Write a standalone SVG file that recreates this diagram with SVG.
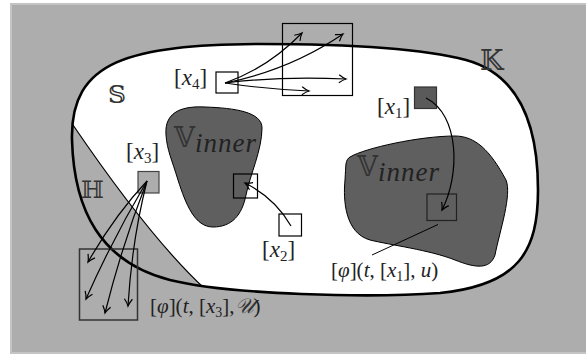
<svg xmlns="http://www.w3.org/2000/svg" width="586" height="356" viewBox="0 0 586 356">
<style>
.k{fill:none;stroke:#000;stroke-width:2.6}
.v{fill:#5f5f5f;stroke:#000;stroke-width:1}
.bx{stroke:#000;stroke-width:1.2}
.ar{fill:none;stroke:#000;stroke-width:1.2;marker-end:url(#ah)}
.t{fill:#222}
.bb{font-family:'DejaVu Serif','DejaVu Sans',serif;fill:#333}
</style>
<defs>
<path id="kp" d="M72,140 C70,60 130,45 260,44 C340,44 420,48 466,60 C510,72 538,110 538,190 C538,250 520,285 440,293 C370,298 230,295 170,280 C100,262 74,210 72,140 Z"/>
<clipPath id="kc"><use href="#kp"/></clipPath>
<marker id="ah" markerUnits="userSpaceOnUse" markerWidth="14" markerHeight="14" viewBox="-10 -7 14 14" refX="0" refY="0" orient="auto">
<path d="M-7,-4 Q-3,-1 0,0 Q-3,1 -7,4" fill="none" stroke="#000" stroke-width="1.2"/>
</marker>
</defs>
<rect x="11" y="4" width="580" height="349" fill="#adadad" stroke="#c4c4c4" stroke-width="2"/>
<g id="K">
<use href="#kp" fill="#fff"/>
<g clip-path="url(#kc)">
<path d="M73,125 Q150,238 205,289 L40,330 L40,100 Z" fill="#adadad"/>
<path d="M73,125 Q150,238 205,289" fill="none" stroke="#000" stroke-width="1.2"/>
</g>
</g>
<g id="V1"><path class="v" d="M166,135 C164,110 185,106 205,107 C235,108 262,112 262,128 C262,150 250,175 246,195 C242,215 232,227 213,227 C195,227 186,205 178,180 C172,160 167,150 166,135 Z"/></g>
<g id="V2"><path class="v" d="M350,157 C365,148 420,136 455,136 C475,136 490,150 506,180 C512,195 500,230 495,255 C490,270 475,268 455,260 C430,250 390,245 370,240 C345,233 343,200 345,180 C346,165 345,160 350,157 Z"/></g>
<use href="#kp" class="k"/>
<g id="x4"><rect class="bx" x="216" y="72" width="22" height="21" fill="#fff"/></g>
<g id="x4target"><rect class="bx" x="282.5" y="23.5" width="70" height="72" fill="none"/></g>
<g id="x1"><rect x="414.5" y="87" width="22" height="21.5" fill="#5a5a5a" stroke="#333" stroke-width="1.2"/></g>
<g id="x1target"><rect x="427" y="194" width="29.5" height="26.5" fill="none" stroke="#222" stroke-width="1.2"/></g>
<g id="x2"><rect class="bx" x="279" y="214" width="22.5" height="22" fill="#fff"/></g>
<g id="x2target"><rect class="bx" x="233.5" y="174" width="24" height="24" fill="none"/></g>
<g id="x3"><rect x="138" y="171.5" width="21" height="21.5" fill="#adadad" stroke="#444" stroke-width="1.2"/></g>
<g id="x3target"><rect x="79.5" y="249" width="58" height="71" fill="none" stroke="#333" stroke-width="1.5"/></g>
<g id="connectors">
<path class="ar" d="M225,83 Q268,68 302,33"/>
<path class="ar" d="M225,83 Q290,70 343,34"/>
<path class="ar" d="M225,83 Q280,76 346,79"/>
<path class="ar" d="M225,83 Q265,89 309,91"/>
<path class="ar" d="M426,98 C460,115 460,175 442,210"/>
<path class="ar" d="M291,226 Q275,198 245,183"/>
<path class="ar" d="M147,181 Q115,215 88,262"/>
<path class="ar" d="M147,181 Q112,240 86,299"/>
<path class="ar" d="M147,181 Q122,245 105,313"/>
<path class="ar" d="M147,181 Q132,240 128,306"/>
<path d="M438,224.5 L372,255" fill="none" stroke="#000" stroke-width="1"/>
</g>
<g id="labels" font-family="'Liberation Serif', 'Times New Roman', serif">
<text class="bb" x="480" y="70" font-size="27">𝕂</text>
<text class="bb" x="108" y="103" font-size="25">𝕊</text>
<text class="bb" x="81" y="198" font-size="24">ℍ</text>
<text class="t" x="174" y="85" font-size="23">[<tspan font-style="italic">x</tspan><tspan font-size="15" dy="4">4</tspan><tspan dy="-4">]</tspan></text>
<text class="t" x="377" y="114" font-size="23">[<tspan font-style="italic">x</tspan><tspan font-size="15" dy="4">1</tspan><tspan dy="-4">]</tspan></text>
<text class="t" x="126" y="159" font-size="23">[<tspan font-style="italic">x</tspan><tspan font-size="15" dy="4">3</tspan><tspan dy="-4">]</tspan></text>
<text class="t" x="262" y="257" font-size="23">[<tspan font-style="italic">x</tspan><tspan font-size="15" dy="4">2</tspan><tspan dy="-4">]</tspan></text>
<text x="174" y="147" font-size="27"><tspan class="bb">𝕍</tspan><tspan class="t" font-style="italic" dy="5" letter-spacing="1">inner</tspan></text>
<text x="357" y="176" font-size="27"><tspan class="bb">𝕍</tspan><tspan class="t" font-style="italic" dy="5" letter-spacing="1">inner</tspan></text>
<text class="t" x="331" y="277" font-size="21">[<tspan font-style="italic">φ</tspan>](<tspan font-style="italic">t</tspan>, [<tspan font-style="italic">x</tspan><tspan font-size="14" dy="4">1</tspan><tspan dy="-4">], </tspan><tspan font-style="italic">u</tspan>)</text>
<text class="t" x="150" y="313" font-size="21">[<tspan font-style="italic">φ</tspan>](<tspan font-style="italic">t</tspan>, [<tspan font-style="italic">x</tspan><tspan font-size="14" dy="4">3</tspan><tspan dy="-4">],</tspan><tspan class="bb" font-style="italic">𝒰</tspan>)</text>
</g>
</svg>
